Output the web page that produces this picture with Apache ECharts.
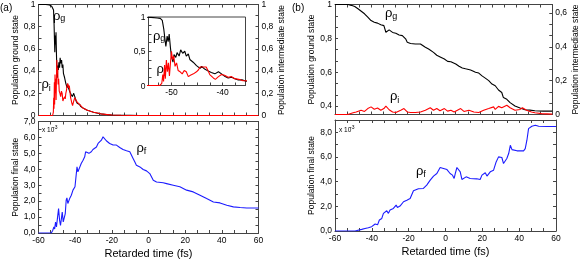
<!DOCTYPE html>
<html>
<head>
<meta charset="utf-8">
<script src="https://cdn.jsdelivr.net/npm/echarts@6/dist/echarts.min.js"></script>
<style>
  html, body { margin: 0; padding: 0; background: #fff; }
  #wrap { position: relative; width: 581px; height: 261px; }
  #chart { width: 581px; height: 261px; }
  .ilab { position: absolute; font: 8.5px "Liberation Sans", Arial, sans-serif; color: #000; line-height: 10px; text-align: right; width: 20px; z-index: 10; }
</style>
</head>
<body>
<div id="wrap"><div id="chart"></div></div>
<script>
// retarded time (fs) / population
const rhoGa = [[-60,1],[-56,1],[-54,0.995],[-52.8,0.985],[-52.2,0.98],[-51.8,0.95],[-51.5,0.82],[-51.3,0.69],[-51.1,0.57],[-50.85,0.72],[-50.65,0.64],[-50.45,0.75],[-50.2,0.55],[-50,0.42],[-49.7,0.34],[-49.5,0.45],[-49.15,0.41],[-48.9,0.48],[-48.5,0.43],[-48.2,0.52],[-47.8,0.47],[-47.4,0.5],[-47.1,0.43],[-46.7,0.46],[-46.4,0.38],[-45.75,0.34],[-45.1,0.29],[-44.4,0.25],[-44.1,0.28],[-43.5,0.24],[-42.8,0.21],[-42.2,0.19],[-41.5,0.17],[-40.8,0.2],[-40.2,0.17],[-39.5,0.13],[-38.9,0.11],[-38.2,0.12],[-37.6,0.1],[-36.9,0.08],[-36.2,0.085],[-35.5,0.065],[-34.5,0.058],[-33.7,0.05],[-32,0.04],[-30,0.03],[-28.3,0.022],[-26,0.015],[-23,0.009],[-20,0.005],[-15,0.002],[-10,0.001],[-5,0],[60,0]];
const rhoIa = [[-60,0],[-52.3,0],[-51.9,0.03],[-51.7,0.16],[-51.55,0.06],[-51.35,0.3],[-51.2,0.1],[-51,0.37],[-50.8,0.2],[-50.6,0.33],[-50.4,0.14],[-50.2,0.33],[-50,0.5],[-49.8,0.38],[-49.55,0.43],[-49.3,0.28],[-49,0.33],[-48.7,0.22],[-48.3,0.2],[-47.9,0.17],[-47.5,0.22],[-47.1,0.2],[-46.7,0.13],[-46.3,0.15],[-46,0.14],[-45.7,0.17],[-45.4,0.15],[-45.1,0.2],[-44.7,0.23],[-44.4,0.27],[-44.1,0.29],[-43.8,0.27],[-43.5,0.25],[-43.2,0.27],[-42.8,0.21],[-42.5,0.16],[-42.2,0.14],[-41.8,0.11],[-41.4,0.09],[-40.8,0.13],[-40.2,0.16],[-39.6,0.15],[-38.9,0.12],[-38.3,0.13],[-37.6,0.1],[-36.8,0.09],[-36,0.07],[-35,0.068],[-33.7,0.05],[-32,0.04],[-30,0.03],[-28.3,0.024],[-25,0.012],[-20,0.005],[-15,0.002],[-10,0],[60,0]];
const rhoFa = [[-60,0],[-53,0],[-52.2,0.17],[-51.6,0.38],[-51.2,0.25],[-50.7,0.69],[-50.2,0.38],[-49.6,1.0],[-49.05,1.53],[-48.5,0.8],[-48,0.48],[-47.4,1.0],[-47.05,1.32],[-46.5,0.7],[-46,0.8],[-45.4,1.22],[-44.9,2.06],[-44.5,2.2],[-44,1.85],[-43,2.16],[-42.1,2.37],[-41.2,2.69],[-40.7,2.79],[-40.1,2.9],[-39.6,3.0],[-39,4.15],[-38.5,3.84],[-37.6,3.94],[-36.7,4.36],[-35.7,4.57],[-34.8,4.78],[-34.3,5.1],[-33.6,5.0],[-32.5,5.0],[-31.2,5.1],[-30.3,5.24],[-29.4,5.3],[-28.4,5.4],[-27.5,5.62],[-26.6,5.66],[-25.7,5.83],[-24.8,6.04],[-23.9,5.94],[-23,5.79],[-21.2,5.62],[-19.3,5.52],[-17.5,5.52],[-15.7,5.37],[-13.9,5.24],[-12,5.16],[-10.2,5.1],[-9.3,5.0],[-8.4,4.68],[-7.5,4.47],[-6.6,4.26],[-4.7,4.15],[-2.9,3.99],[-1.1,3.9],[0.7,3.73],[2.6,3.31],[4.4,3.2],[8,3.15],[9.85,3.1],[13.5,3.0],[17.1,2.9],[20.8,2.69],[24.4,2.58],[28.1,2.37],[31.7,2.16],[35.4,1.95],[39,1.89],[42.7,1.74],[46.3,1.64],[50,1.6],[53.6,1.57],[57.3,1.57],[60,1.57]];

const rhoGb = [[-60,1],[-52.8,1],[-51,0.995],[-49.1,0.988],[-47.3,0.975],[-45.5,0.96],[-43.7,0.945],[-41.9,0.925],[-40.1,0.905],[-38.3,0.895],[-36.5,0.89],[-34.7,0.88],[-33,0.875],[-31.9,0.836],[-30.1,0.85],[-28.2,0.835],[-26.4,0.83],[-24.6,0.82],[-22.8,0.816],[-21,0.797],[-20.1,0.777],[-18.3,0.77],[-15.6,0.767],[-12.8,0.767],[-10.1,0.747],[-8.3,0.737],[-5.6,0.717],[-3.8,0.7],[-1.9,0.69],[0.4,0.678],[2.2,0.664],[4,0.662],[6.7,0.648],[8.5,0.635],[10.3,0.625],[12.1,0.62],[14.9,0.613],[17.6,0.6],[19.4,0.595],[21.2,0.578],[23,0.565],[24.9,0.55],[26.7,0.53],[28.5,0.52],[30.3,0.495],[32.1,0.48],[33,0.45],[34.9,0.44],[36.7,0.42],[39.4,0.4],[42.2,0.388],[44.9,0.378],[47.6,0.376],[50.4,0.372],[55,0.37],[60,0.37]];
const rhoIb = [[-60,0],[-53,0],[-52,0.006],[-50,0.01],[-48.3,0.015],[-45.6,0.025],[-43.7,0.018],[-41.9,0.035],[-40.1,0.045],[-38.3,0.031],[-36.5,0.038],[-34.7,0.025],[-33,0.035],[-31.9,0.05],[-30.1,0.028],[-28.2,0.015],[-26.4,0.012],[-23.7,0.025],[-21.9,0.035],[-20.1,0.015],[-18.3,0.012],[-15.6,0.012],[-12.8,0.015],[-10.1,0.025],[-7.4,0.04],[-5.6,0.025],[-3.8,0.035],[-2,0.022],[0.4,0.035],[2.2,0.02],[4,0.025],[5.8,0.015],[7.6,0.025],[9.4,0.035],[11.2,0.018],[14,0.025],[16.7,0.015],[19.4,0.012],[22.1,0.025],[24.9,0.035],[27.6,0.045],[28.5,0.03],[30.3,0.048],[32.1,0.04],[34.9,0.055],[36.7,0.04],[39.4,0.025],[42.2,0.03],[43.5,0.04],[45.8,0.025],[48.5,0.015],[50.4,0.01],[54,0.005],[60,0.002]];
const rhoFb = [[-60,0],[-49.1,0],[-48.2,0.05],[-45.5,0.13],[-43.7,0.2],[-41.9,0.27],[-40.1,0.35],[-38.2,0.57],[-36.9,0.5],[-35.9,0.89],[-34.6,1.02],[-33.7,1.43],[-31.9,1.64],[-31,1.43],[-30.1,1.7],[-28.3,1.83],[-26.8,2.1],[-26.1,1.91],[-24.7,2.02],[-22.8,2.37],[-21,2.5],[-19.2,2.64],[-17.4,3.26],[-16.5,3.18],[-14.7,3.42],[-12,3.45],[-10.2,3.72],[-8.3,4.12],[-6.5,4.45],[-4.7,4.66],[-3.8,4.8],[-2.9,5.15],[-2,5.26],[-1.1,5.07],[-0.2,4.93],[0.8,4.98],[2.5,4.66],[3.8,4.53],[4.7,4.26],[5.3,4.66],[6.2,5.15],[7.1,5.2],[8,4.8],[8.9,4.18],[9.8,4.26],[11.2,4.39],[13.4,4.26],[17,4.23],[18.8,4.18],[19.8,4.53],[20.7,4.4],[21.6,4.72],[22.5,4.45],[23.4,4.53],[24.3,4.8],[26.1,4.93],[27.5,5.6],[28.8,6.01],[30.6,5.96],[31.5,5.47],[32.4,5.34],[33.3,5.88],[34.3,6.28],[35.2,6.95],[36.1,6.6],[37,6.68],[38.8,6.5],[40.6,6.5],[42.4,6.5],[43.3,6.68],[44.2,7.36],[45.1,8.3],[46.9,8.49],[48.8,8.57],[50.6,8.49],[55,8.47],[60,8.47]];

// tick labels
const timeLabels = [-60, -40, -20, 0, 20, 40, 60];
const insetTimeLabels = [-50, -40];
const aTopLabels = [0, 0.2, 0.4, 0.6, 0.8, 1];
const aBotLabels = [0, 1, 2, 3, 4, 5, 6, 7];
const bTopLeftLabels = [0.4, 0.6, 0.8, 1];
const bTopRightLabels = [0, 0.2, 0.4, 0.6];
const bBotLabels = [0, 2, 4, 6, 8];
const insetLabels = [0, 0.5, 1];

const font = '"Liberation Sans", Arial, sans-serif';
const frame = '#444';
const inset = { left: 148.5, top: 17, width: 97, height: 68.5 };

function ticksBetween(majors, parts, min, max) {
    const out = [];
    for (let k = 0; k < majors.length - 1; k++) {
        const a = majors[k], b = majors[k + 1];
        for (let j = 0; j < parts; j++) out.push(+(a + (b - a) * j / parts).toFixed(4));
    }
    out.push(majors[majors.length - 1]);
    return out.filter(v => v >= min - 1e-9 && v <= max + 1e-9);
}

const fmtComma = v => String(Math.round(v * 100) / 100).replace('.', ',');
const fmtFixed = v => v.toFixed(1).replace('.', ',');
const fmtTime = v => String(v);

function axis(gridIndex, position, min, max, ticks, labels, fmt, extra) {
    const ax = {
        type: 'value', gridIndex, position, min, max,
        axisLine: { show: true, onZero: false, lineStyle: { color: frame, width: 1 } },
        axisTick: { show: true, inside: true, length: 3, customValues: ticks, lineStyle: { color: frame } },
        splitLine: { show: false },
        axisLabel: labels
            ? { show: true, customValues: labels, formatter: fmt, color: '#000', fontSize: 8.5, fontFamily: font, margin: 3 }
            : { show: false }
    };
    return Object.assign(ax, extra || {});
}

function yName(text, gap) {
    return {
        name: text, nameLocation: 'middle', nameGap: gap, nameRotate: 90,
        nameTextStyle: { color: '#000', fontSize: 8.5, fontFamily: font }
    };
}
const xName = {
    name: 'Retarded time (fs)', nameLocation: 'middle', nameGap: 15.5,
    nameTextStyle: { color: '#000', fontSize: 11, fontFamily: font }
};

const tTicks = ticksBetween(timeLabels, 3, -60, 60);
const insetTTicks = ticksBetween([-55, -50, -45, -40, -35], 2, -54.5, -35.5);
const aTopTicks = ticksBetween(aTopLabels, 2, 0, 1);
const aBotTicks = ticksBetween(aBotLabels, 2, 0, 7);
const bTopLeftTicks = ticksBetween([0.2, 0.4, 0.6, 0.8, 1], 3, 0.35, 1);
const bTopRightTicks = ticksBetween([0, 0.2, 0.4, 0.6, 0.8], 3, 0, 0.65);
const bBotTicks = ticksBetween([0, 2, 4, 6, 8, 10], 2, 0, 9);
const insetTicks = ticksBetween(insetLabels, 4, 0, 1);

function rho(x, base, sub, subBase) {
    return [
        { type: 'text', x: x, y: base - 4.5, style: { text: 'ρ', font: '13px ' + font, fill: '#000', verticalAlign: 'middle' } },
        { type: 'text', x: x + 7.3, y: subBase - 3.1, style: { text: sub, font: '9px ' + font, fill: '#000', verticalAlign: 'middle' } }
    ];
}
function scale(x, y) {
    return [
        { type: 'text', x: x, y: y, style: { text: 'x 10', font: '6.5px ' + font, fill: '#000', verticalAlign: 'middle' } },
        { type: 'text', x: x + 11, y: y - 2.5, style: { text: '-3', font: '5px ' + font, fill: '#000', verticalAlign: 'middle' } }
    ];
}

const line = (data, xi, yi, color) => ({
    type: 'line', data, xAxisIndex: xi, yAxisIndex: yi, showSymbol: false, symbol: 'none',
    lineStyle: { color, width: 1.1 }, itemStyle: { color }, animation: false, clip: true
});

const chart = echarts.init(document.getElementById('chart'));
chart.setOption({
    animation: false,
    backgroundColor: '#fff',
    grid: [
        { left: 38.5, top: 4, width: 220, height: 111.5 },
        { left: 38.5, top: 121.5, width: 220, height: 111.5 },
        { left: 335, top: 4, width: 221, height: 110.5 },
        { left: 335, top: 120, width: 221, height: 111 },
        Object.assign({ show: true, borderColor: frame, borderWidth: 1, backgroundColor: '#fff' }, inset)
    ],
    xAxis: [
        axis(0, 'bottom', -60, 60, tTicks),
        axis(0, 'top', -60, 60, tTicks),
        axis(1, 'bottom', -60, 60, tTicks, timeLabels, fmtTime, xName),
        axis(1, 'top', -60, 60, tTicks),
        axis(2, 'bottom', -60, 60, tTicks),
        axis(2, 'top', -60, 60, tTicks),
        axis(3, 'bottom', -60, 60, tTicks, timeLabels, fmtTime, xName),
        axis(3, 'top', -60, 60, tTicks),
        axis(4, 'bottom', -54.5, -35.5, insetTTicks, insetTimeLabels, fmtTime)
    ],
    yAxis: [
        axis(0, 'left', 0, 1, aTopTicks, aTopLabels, fmtComma, yName('Population ground state', 18)),
        axis(0, 'right', 0, 1, aTopTicks, aTopLabels, fmtComma, yName('Population intermediate state', 16)),
        axis(1, 'left', 0, 7, aBotTicks, aBotLabels, fmtFixed, yName('Population final state', 18)),
        axis(1, 'right', 0, 7, aBotTicks),
        axis(2, 'left', 0.35, 1, bTopLeftTicks, bTopLeftLabels, fmtComma, yName('Population ground state', 18)),
        axis(2, 'right', 0, 0.65, bTopRightTicks, bTopRightLabels, fmtComma, yName('Population intermediate state', 16)),
        axis(3, 'left', 0, 9, bBotTicks, bBotLabels, fmtFixed, yName('Population final state', 18)),
        axis(3, 'right', 0, 9, bBotTicks),
        axis(4, 'left', 0, 1, insetTicks)
    ],
    series: [
        line(rhoGa, 0, 0, '#000'),
        line(rhoIa, 0, 1, '#ff0000'),
        line(rhoFa, 2, 2, '#1c1cff'),
        line(rhoGb, 4, 4, '#000'),
        line(rhoIb, 4, 5, '#ff0000'),
        line(rhoFb, 6, 6, '#1c1cff'),
        line(rhoGa, 8, 8, '#000'),
        line(rhoIa, 8, 8, '#ff0000')
    ],
    graphic: [
        { type: 'text', x: 0, y: 8, style: { text: '(a)', font: '10px ' + font, fill: '#000', verticalAlign: 'middle' } },
        { type: 'text', x: 292, y: 8, style: { text: '(b)', font: '10px ' + font, fill: '#000', verticalAlign: 'middle' } },
        ...rho(53, 20.5, 'g', 22),
        ...rho(41.5, 89, 'i', 92),
        ...rho(153, 40.5, 'g', 42),
        ...rho(156.5, 74, 'i', 77),
        ...rho(136.5, 153, 'f', 155),
        ...rho(385, 18, 'g', 20),
        ...rho(390, 101, 'i', 104),
        ...rho(416, 176, 'f', 178),
        ...scale(42, 130.5),
        ...scale(339, 130)
    ]
});

// inset y labels as page text, placed where the inset axis puts each value
const wrap = document.getElementById('wrap');
insetLabels.forEach(v => {
    let p = null;
    try { p = chart.convertToPixel({ gridIndex: 4 }, [-54.5, v]); } catch (e) { p = null; }
    const px = (p && isFinite(p[0])) ? p[0] : inset.left;
    const py = (p && isFinite(p[1])) ? p[1] : inset.top + (1 - v) * inset.height;
    const d = document.createElement('div');
    d.className = 'ilab';
    d.textContent = fmtComma(v);
    d.style.left = (px - 3 - 20) + 'px';
    d.style.top = (py - 5) + 'px';
    wrap.appendChild(d);
});
</script>
</body>
</html>
